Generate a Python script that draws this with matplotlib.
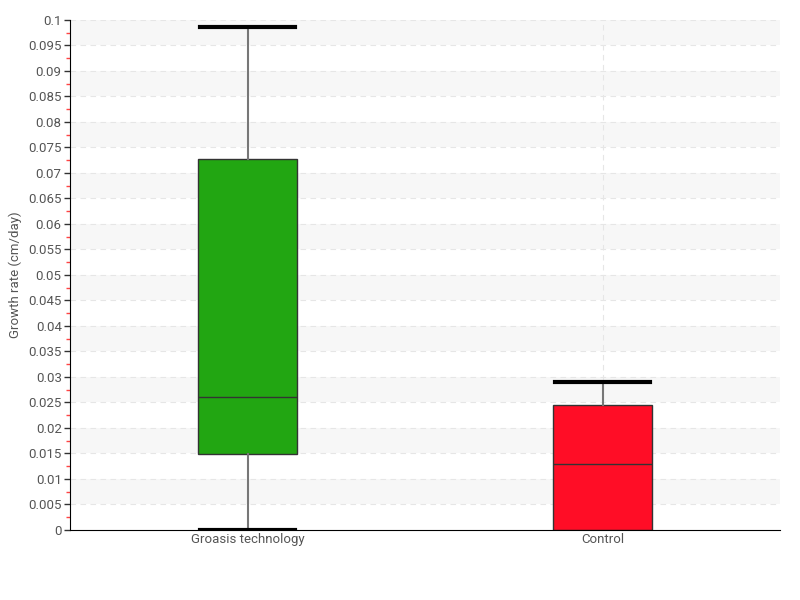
import numpy as np
import matplotlib
matplotlib.use("Agg")
import matplotlib.pyplot as plt
from matplotlib.ticker import MultipleLocator, FuncFormatter

plt.rcParams['font.family'] = ['Roboto', 'DejaVu Sans']

labels = ["Groasis technology", "Control"]
whislo = [0.0, 0.0]
q1 = [0.0149, 0.0]
med = [0.0261, 0.0129]
q3 = [0.0727, 0.0245]
whishi = [0.0986, 0.029]
colors = ["#22a612", "#ff0d26"]

stats = [dict(label=l, whislo=a, q1=b, med=c, q3=d, whishi=e)
         for l, a, b, c, d, e in zip(labels, whislo, q1, med, q3, whishi)]

fig = plt.figure(figsize=(8, 6), dpi=100)
ax = fig.add_axes([0.0875, 0.1167, 0.8875, 0.85])

# alternating bands
for y0 in np.arange(0.005, 0.1, 0.01):
    ax.axhspan(y0, y0 + 0.005, color="#f7f7f7", zorder=0, lw=0)
for y in np.arange(0.005, 0.1001, 0.005):
    ax.axhline(y, color="#e6e6e6", lw=0.8, ls=(0, (5, 4)), zorder=0.5)
ax.axvline(2, color="#e6e6e6", lw=0.8, ls=(0, (5, 4)), zorder=0.5)

bp = ax.bxp(stats, positions=[1, 2], widths=0.28, patch_artist=True,
            showfliers=False,
            boxprops=dict(edgecolor="#333333", linewidth=1),
            medianprops=dict(color="#333333", linewidth=1),
            whiskerprops=dict(color="#777777", linewidth=1.5),
            capprops=dict(color="black", linewidth=3),
            capwidths=0.27)
for patch, c in zip(bp["boxes"], colors):
    patch.set_facecolor(c)
    patch.set_zorder(2)
# control has no visible lower whisker
bp["caps"][2].set_visible(False)
bp["whiskers"][2].set_visible(False)

ax.set_xlim(0.5, 2.5)
ax.set_ylim(0, 0.1)
ax.yaxis.set_major_locator(MultipleLocator(0.005))
ax.yaxis.set_minor_locator(MultipleLocator(0.0025))
ax.yaxis.set_major_formatter(FuncFormatter(lambda v, p: f"{v:g}"))
ax.tick_params(axis="y", which="major", length=4, width=1, color="#333333",
               labelcolor="#555555", labelsize=9.5, pad=2)
ax.tick_params(axis="y", which="minor", length=3, width=1, color="#ff4444")
ax.tick_params(axis="x", length=0, labelcolor="#555555", labelsize=9.5, pad=2)
ax.set_ylabel("Growth rate (cm/day)", color="#555555", fontsize=9.5)
ax.yaxis.set_label_coords(-0.068, 0.5)

for s in ["top", "right"]:
    ax.spines[s].set_visible(False)
ax.spines["left"].set_color("black")
ax.spines["bottom"].set_color("black")

fig.savefig("out.png", dpi=100)
